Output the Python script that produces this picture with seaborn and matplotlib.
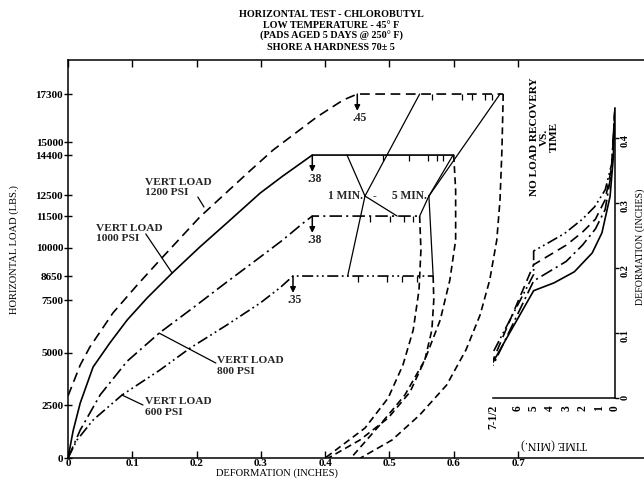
import matplotlib
matplotlib.use("Agg")
import matplotlib.pyplot as plt
import seaborn as sns

sns.set_theme(style="white")
plt.rcParams["font.family"] = ["Liberation Serif", "DejaVu Serif"]
plt.rcParams["font.weight"] = "bold"
plt.rcParams["lines.scale_dashes"] = False
plt.rcParams["axes.linewidth"] = 1.1

# ---- loading curves: deformation (in) vs horizontal load (lb), then hold ----
defl_600 = [0.0, 0.014, 0.039, 0.084, 0.143, 0.190, 0.247, 0.299, 0.330, 0.35, 0.568]
load_600 = [0, 855, 1806, 2994, 4183, 5228, 6321, 7367, 8100, 8650, 8650]

defl_800 = [0.0, 0.019, 0.050, 0.092, 0.142, 0.194, 0.247, 0.299, 0.334, 0.365, 0.38, 0.547]
load_800 = [0, 1331, 3000, 4600, 5941, 7129, 8365, 9553, 10361, 11150, 11500, 11500]

defl_1000 = [0.0, 0.008, 0.019, 0.039, 0.065, 0.092, 0.123, 0.162, 0.205, 0.247, 0.299, 0.334, 0.38, 0.60]
load_1000 = [0, 1300, 2614, 4325, 5466, 6559, 7605, 8793, 10029, 11169, 12595, 13400, 14400, 14400]

defl_1200 = [0.0, 0.019, 0.034, 0.070, 0.107, 0.143, 0.205, 0.283, 0.319, 0.387, 0.428, 0.45, 0.677]
load_1200 = [2950, 4420, 5276, 6900, 8200, 9411, 11454, 13650, 14639, 16207, 17015, 17300, 17300]

# ---- unloading (recovery) curves ----
un_defl_600 = [0.568, 0.569, 0.566, 0.555, 0.532, 0.498, 0.454, 0.405]
un_load_600 = [8650, 7510, 6084, 4658, 3137, 1901, 855, 0]

un_defl_800 = [0.547, 0.549, 0.546, 0.537, 0.521, 0.498, 0.462, 0.40]
un_load_800 = [11500, 9886, 7985, 6084, 4420, 2852, 1426, 0]

un_defl_1000 = [0.60, 0.603, 0.603, 0.594, 0.579, 0.555, 0.524, 0.485, 0.44]
un_load_1000 = [14400, 12738, 10361, 8460, 6559, 4658, 2994, 1568, 0]

un_defl_1200 = [0.677, 0.675, 0.672, 0.667, 0.656, 0.641, 0.619, 0.589, 0.547, 0.504, 0.455]
un_load_1200 = [17300, 14639, 12262, 10361, 8460, 6797, 5133, 3470, 2044, 855, 0]

# plateau loads and deformation where each plateau is reached
plateau_load = [8650, 11500, 14400, 17300]
onset_defl = [0.35, 0.38, 0.38, 0.45]
onset_text = [".35", ".38", ".38", ".45"]

# 1-minute and 5-minute points on each plateau
one_min_defl = [0.435, 0.512, 0.434, 0.547]
five_min_defl = [0.568, 0.547, 0.599, 0.672]

# minute tick marks along each plateau
minute_marks = {
    8650: [0.451, 0.496, 0.519, 0.543],
    11500: [0.470, 0.501, 0.523, 0.537],
    14400: [0.490, 0.530, 0.560, 0.574, 0.583],
    17300: [0.566, 0.613, 0.629, 0.649, 0.660],
}

y_ticks = [0, 2500, 5000, 7500, 8650, 10000, 11500, 12500, 14400, 15000, 17300]
x_ticks = [0, 0.1, 0.2, 0.3, 0.4, 0.5, 0.6, 0.7]
x_ticklabels = ["0", "0.1", "0.2", "0.3", "0.4", "0.5", "0.6", "0.7"]

# ---- recovery vs time (inset) ----
t_600 = [0, 0.2, 0.6, 1.25, 2.0, 3.1, 4.0, 5.0, 5.0, 7.5]
d_600 = [0.445, 0.36, 0.32, 0.294, 0.275, 0.253, 0.24, 0.226, 0.19, 0.07]
t_1200 = [0, 0.2, 0.6, 1.2, 2.0, 3.0, 4.0, 5.0, 7.5]
d_1200 = [0.445, 0.355, 0.305, 0.275, 0.255, 0.235, 0.22, 0.205, 0.058]
t_800 = [0, 0.2, 0.6, 1.2, 2.0, 3.0, 4.0, 5.0, 7.5]
d_800 = [0.445, 0.35, 0.29, 0.26, 0.235, 0.21, 0.195, 0.18, 0.05]
t_1000 = [0, 0.1, 0.3, 0.8, 1.4, 2.5, 3.75, 5.0, 7.5]
d_1000 = [0.445, 0.37, 0.31, 0.254, 0.223, 0.194, 0.177, 0.165, 0.055]

time_ticks = [0, 1, 2, 3, 4, 5, 6, 7.5]
time_ticklabels = ["0", "1", "2", "3", "4", "5", "6", "7-1/2"]
rec_ticks = [0, 0.1, 0.2, 0.3, 0.4]
rec_ticklabels = ["0", "0.1", "0.2", "0.3", "0.4"]

LS_600 = (0, (8, 2.5, 1.3, 2.5, 1.3, 2.5))
LS_800 = (0, (9, 3, 1.5, 3))
LS_1000 = "-"
LS_1200 = (0, (7, 4))
LS_UNLOAD = (0, (5, 3))
LW = 1.2
INK = "black"


def trace(ax, x, y, ls, lw=LW):
    sns.lineplot(x=x, y=y, ax=ax, sort=False, estimator=None, color=INK,
                 linewidth=lw, linestyle=ls, legend=False)


fig = plt.figure(figsize=(6.44, 4.87), dpi=100)
ax = fig.add_axes([0.1056, 0.0595, 0.8944, 0.8172])
ax.set_xlim(0, 0.896)
ax.set_ylim(0, 18916)

trace(ax, defl_600, load_600, LS_600)
trace(ax, defl_800, load_800, LS_800)
trace(ax, defl_1000, load_1000, LS_1000)
trace(ax, defl_1200, load_1200, LS_1200)
for ux, uy in [(un_defl_600, un_load_600), (un_defl_800, un_load_800),
               (un_defl_1000, un_load_1000), (un_defl_1200, un_load_1200)]:
    trace(ax, ux, uy, LS_UNLOAD)

for load, marks in minute_marks.items():
    sns.scatterplot(x=marks, y=[load] * len(marks), ax=ax, marker=3, s=18,
                    color=INK, linewidth=0.9, legend=False)

# plateau onset arrows and values
for d, p, txt in zip(onset_defl, plateau_load, onset_text):
    ax.annotate("", xy=(d, p - 800), xytext=(d, p),
                arrowprops=dict(arrowstyle="-|>", color=INK, lw=1.1,
                                mutation_scale=8, shrinkA=0, shrinkB=0))
    ax.text(d + 0.003, p - 1130, txt, ha="center", va="center", fontsize=8.3)

# 1 MIN. - 5 MIN. leaders
one_anchor = (0.462, 12452)
five_anchor = (0.5614, 12452)
ax.text(0.4595, 12452, "1 MIN.", ha="right", va="center", fontsize=8.3)
ax.text(0.476, 12452, "-", ha="center", va="center", fontsize=8.3)
ax.text(0.558, 12452, "5 MIN.", ha="right", va="center", fontsize=8.3)
for d1, d5, p in zip(one_min_defl, five_min_defl, plateau_load):
    ax.annotate("", xy=(d1, p), xytext=one_anchor,
                arrowprops=dict(arrowstyle="-", color=INK, lw=0.9, shrinkA=0, shrinkB=0))
    ax.annotate("", xy=(d5, p), xytext=five_anchor,
                arrowprops=dict(arrowstyle="-", color=INK, lw=0.9, shrinkA=0, shrinkB=0))

# curve labels with leader lines
labels = [
    ("VERT LOAD\n1200 PSI", (0.12, 12880), (0.202, 12405), (0.2115, 11930)),
    ("VERT LOAD\n1000 PSI", (0.0435, 10694), (0.121, 10650), (0.162, 8793)),
    ("VERT LOAD\n800 PSI", (0.232, 4373), (0.230, 4515), (0.1415, 5941)),
    ("VERT LOAD\n600 PSI", (0.12, 2424), (0.1166, 2519), (0.084, 2994)),
]
for txt, pos, start, end in labels:
    ax.text(pos[0], pos[1], txt, ha="left", va="center", fontsize=8.2, linespacing=1.15)
    ax.annotate("", xy=end, xytext=start,
                arrowprops=dict(arrowstyle="-", color=INK, lw=0.9, shrinkA=0, shrinkB=0))

ax.set_xticks(x_ticks)
ax.set_xticklabels(x_ticklabels)
ax.set_yticks(y_ticks)
ax.set_yticklabels([str(v) for v in y_ticks])
ax.tick_params(axis="x", direction="in", length=5, width=1, top=True, bottom=True,
               labelsize=8, pad=1, colors=INK)
ax.tick_params(axis="y", direction="inout", length=6, width=1, left=True,
               labelsize=8, pad=0.5, colors=INK)
for side in ["left", "bottom", "top"]:
    ax.spines[side].set_color(INK)
ax.spines["right"].set_visible(False)

ax.set_xlabel("DEFORMATION (INCHES)", fontsize=7.6, color=INK)
ax.xaxis.set_label_coords(0.363, -0.026)
ax.set_ylabel("HORIZONTAL LOAD (LBS.)", fontsize=7.6, color=INK)
ax.yaxis.set_label_coords(-0.085, 0.523)

fig.text(0.514, 0.979,
         "HORIZONTAL TEST - CHLOROBUTYL\nLOW TEMPERATURE - 45° F\n"
         "(PADS AGED 5 DAYS @ 250° F)\nSHORE A HARDNESS 70± 5",
         ha="center", va="top", fontsize=7.3, linespacing=1.2, color=INK)

# ---- inset: recovery vs time ----
ax2 = fig.add_axes([0.7655, 0.1828, 0.1894, 0.5955])
ax2.patch.set_alpha(0)
ax2.set_xlim(7.5, 0)
ax2.set_ylim(0, 0.446)
trace(ax2, t_600, d_600, LS_600)
trace(ax2, t_800, d_800, LS_800)
trace(ax2, t_1000, d_1000, LS_1000)
trace(ax2, t_1200, d_1200, LS_1200)

ax2.spines["top"].set_visible(False)
ax2.spines["left"].set_visible(False)
ax2.spines["right"].set_color(INK)
ax2.spines["bottom"].set_color(INK)
ax2.yaxis.tick_right()
ax2.yaxis.set_label_position("right")
ax2.set_xticks(time_ticks)
ax2.set_xticklabels(time_ticklabels)
ax2.set_yticks(rec_ticks)
ax2.set_yticklabels(rec_ticklabels)
ax2.tick_params(axis="x", direction="inout", length=6, width=1, labelsize=8.3,
                labelrotation=90, pad=2, colors=INK)
ax2.tick_params(axis="y", direction="out", length=3, width=1, labelsize=7.5,
                labelrotation=90, pad=1, colors=INK, right=True, left=False)
ax2.set_xlabel("TIME (MIN.)", fontsize=8.6, rotation=180, color=INK, labelpad=6)
ax2.set_ylabel("DEFORMATION (INCHES)", fontsize=7.2, rotation=90, color=INK)
ax2.yaxis.set_label_coords(1.165, 0.52)
ax2.text(0.42, 0.9, "NO LOAD RECOVERY\nVS.\nTIME", transform=ax2.transAxes,
         rotation=90, ha="center", va="center", fontsize=8.1, multialignment="center",
         linespacing=1.1, color=INK)

fig.savefig("out.png", dpi=100, facecolor="white")
